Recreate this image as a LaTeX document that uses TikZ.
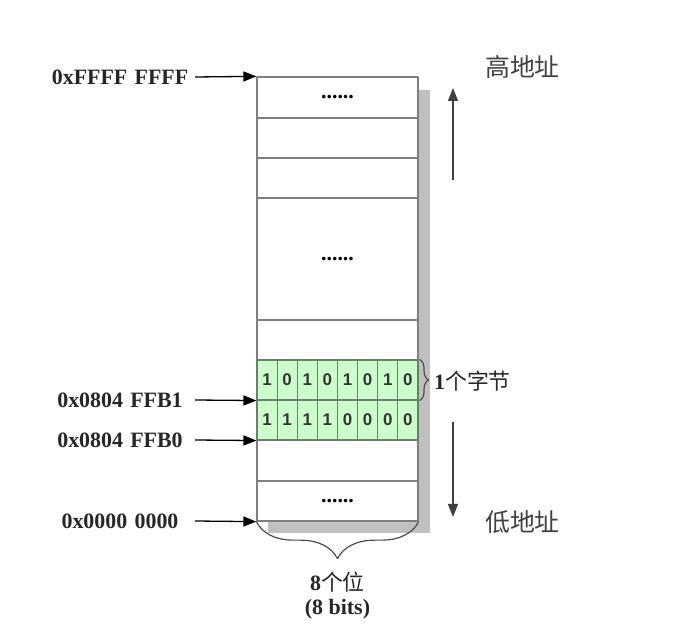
\documentclass[tikz,border=0pt]{standalone}
\usepackage{fontspec}
\setmainfont{Liberation Serif}
\newfontfamily\cjk{Noto Sans CJK SC}
\newfontfamily\bitfont{Liberation Sans}
\usetikzlibrary{arrows.meta}
\usetikzlibrary{decorations.pathreplacing}
\definecolor{bitgreen}{HTML}{CCFFCC}
\definecolor{bitline}{HTML}{6A7F6A}
\definecolor{shadowgray}{HTML}{C0C0C0}
\definecolor{rowline}{HTML}{7F7F7F}

\begin{document}
\begin{tikzpicture}[>={Triangle[length=13bp,width=10bp]},line join=bevel,
  memrow/.style={draw=rowline,fill=white,line width=1.3bp,minimum width=161bp,inner sep=0pt,font=\fontsize{22}{24}\selectfont\bfseries},
  bitcell/.style={draw=bitline,fill=bitgreen,line width=1.1bp,minimum width=20.125bp,minimum height=40bp,inner sep=0pt,font=\fontsize{17}{20}\selectfont\bitfont\bfseries,text=black!80},
  addr/.style={text width=150bp,align=center,inner sep=0pt,font=\fontsize{22}{24}\selectfont\bfseries,text=black!85},
  cnlabel/.style={inner sep=0pt,font=\fontsize{25}{30}\selectfont\cjk,text=black!75},
  note/.style={inner sep=0pt,font=\fontsize{22}{24}\selectfont\bfseries,text=black!85},
  dirarrow/.style={->,draw=black!75,line width=1.3bp},
  bracemark/.style={decorate,draw=black!70,line width=1.2bp},
]
\useasboundingbox (0,0) rectangle (684bp,644bp);
%%
\fill [shadowgray] (268bp,111bp) rectangle (430bp,554bp);
\node (row_1) at (337.5bp,546.5bp) [memrow,minimum height=41bp] {......};
  \node (row_2) at (337.5bp,506bp) [memrow,minimum height=40bp] {};
  \node (row_3) at (337.5bp,466bp) [memrow,minimum height=40bp] {};
  \node (row_4) at (337.5bp,385bp) [memrow,minimum height=122bp] {......};
  \node (row_5) at (337.5bp,304bp) [memrow,minimum height=40bp] {};
  \node (row_8) at (337.5bp,183.5bp) [memrow,minimum height=41bp] {};
  \node (row_9) at (337.5bp,143bp) [memrow,minimum height=40bp] {......};
\foreach \b [count=\i] in {1,0,1,0,1,0,1,0}
  \node (bit_hi_\i) at ({257bp+20.125bp*(\i-0.5)},264bp) [bitcell] {\b};
\foreach \b [count=\i] in {1,1,1,1,0,0,0,0}
  \node (bit_lo_\i) at ({257bp+20.125bp*(\i-0.5)},224bp) [bitcell] {\b};
%
\node (addr_top) at (120bp,567bp) [addr] {0xFFFF FFFF};
  \node (addr_b1) at (120bp,244bp) [addr] {0x0804 FFB1};
  \node (addr_b0) at (120bp,204bp) [addr] {0x0804 FFB0};
  \node (addr_zero) at (120bp,123bp) [addr] {0x0000 0000};
  \draw [black,->,line width=1.3bp] (addr_top.east) -- (row_1.north west);
  \draw [black,->,line width=1.3bp] (addr_b1.east) -- (bit_hi_1.south west);
  \draw [black,->,line width=1.3bp] (addr_b0.east) -- (bit_lo_1.south west);
  \draw [black,->,line width=1.3bp] (addr_zero.east) -- (row_9.south west);
%
\node (high_addr) at (522.5bp,577bp) [cnlabel] {高地址};
  \node (low_addr) at (522.5bp,122bp) [cnlabel] {低地址};
  \coordinate (up_from) at (453bp,464bp);
  \coordinate (up_to) at (453bp,556bp);
  \coordinate (down_from) at (453bp,222bp);
  \coordinate (down_to) at (453bp,127bp);
  \draw [dirarrow] (up_from) -- (up_to);
  \draw [dirarrow] (down_from) -- (down_to);
%
\draw [bracemark,decoration={brace,amplitude=9bp,raise=1bp}] (bit_hi_8.north east) -- (bit_hi_8.south east);
  \node (byte_note) at (434bp,263bp) [note,anchor=west] {1{\cjk\mdseries 个字节}};
  \draw [bracemark,decoration={brace,amplitude=37bp}] (row_9.south east) -- (row_9.south west);
  \node (bits_cn) at (337.5bp,62bp) [note] {8{\cjk\mdseries 个位}};
  \node (bits_en) at (337.5bp,35bp) [note] {(8 bits)};
%
\end{tikzpicture}
\end{document}
